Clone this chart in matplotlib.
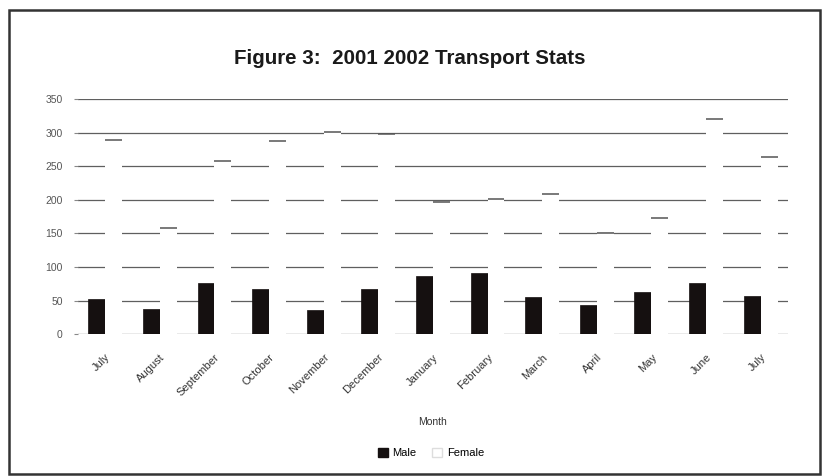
import matplotlib
matplotlib.use("Agg")
import matplotlib.pyplot as plt
import numpy as np
from matplotlib.patches import Rectangle

plt.rcParams['font.family'] = ['Liberation Sans', 'DejaVu Sans']

months = ["July", "August", "September", "October", "November", "December",
          "January", "February", "March", "April", "May", "June", "July"]
male = [53, 38, 76, 67, 36, 67, 87, 91, 56, 44, 62, 76, 57]
female = [289, 158, 257, 288, 301, 298, 196, 201, 209, 150, 173, 320, 264]
yticks = [0, 50, 100, 150, 200, 250, 300, 350]

fig = plt.figure(figsize=(8.29, 4.76), dpi=100)
ax = fig.add_axes([0.094, 0.298, 0.8565, 0.494])

x = np.arange(len(months))
w = 0.31
ax.set_axisbelow(True)
ax.yaxis.grid(True, color='#5f5f5f', linewidth=0.9)
ax.bar(x - w / 2, male, width=w, color='#151010', edgecolor='#151010',
       linewidth=0.5, label='Male', zorder=3)
ax.bar(x + w / 2, female, width=w, color='white', edgecolor='none',
       label='Female', zorder=3)
ax.hlines(female, x, x + w, color='#555555', linewidth=1.1, zorder=4)

ax.set_xlim(-0.5, len(months) - 0.5)
ax.set_ylim(0, 350)
ax.set_yticks(yticks)
ax.set_yticklabels([str(v) for v in yticks], fontsize=7.5, color='#555555')
ax.set_xticks(x)
ax.set_xticklabels(months, rotation=45, ha='right', rotation_mode='anchor',
                   fontsize=8, color='#333333')
ax.tick_params(axis='x', length=0, pad=13)
ax.tick_params(axis='y', length=3, color='#888888', pad=8)
for s in ax.spines.values():
    s.set_visible(False)

ax.set_xlabel("Month", fontsize=7.5, color='#333333', labelpad=14)
fig.text(0.4946, 0.878, "Figure 3:  2001 2002 Transport Stats", ha='center',
         va='center', fontsize=14.8, fontweight='bold', color='#1a1a1a')

h1 = Rectangle((0, 0), 1, 1, facecolor='#151010', edgecolor='#151010')
h2 = Rectangle((0, 0), 1, 1, facecolor='white', edgecolor='#dddddd')
fig.legend([h1, h2], ['Male', 'Female'], loc='center', bbox_to_anchor=(0.52, 0.048),
           ncol=2, frameon=False, fontsize=8, handlelength=0.9, handleheight=0.9,
           columnspacing=1.4, handletextpad=0.4)

border = Rectangle((0.0105, 0.004), 0.979, 0.975, transform=fig.transFigure,
                   fill=False, edgecolor='#333333', linewidth=1.8)
fig.patches.append(border)

fig.savefig("out.png", dpi=100)
